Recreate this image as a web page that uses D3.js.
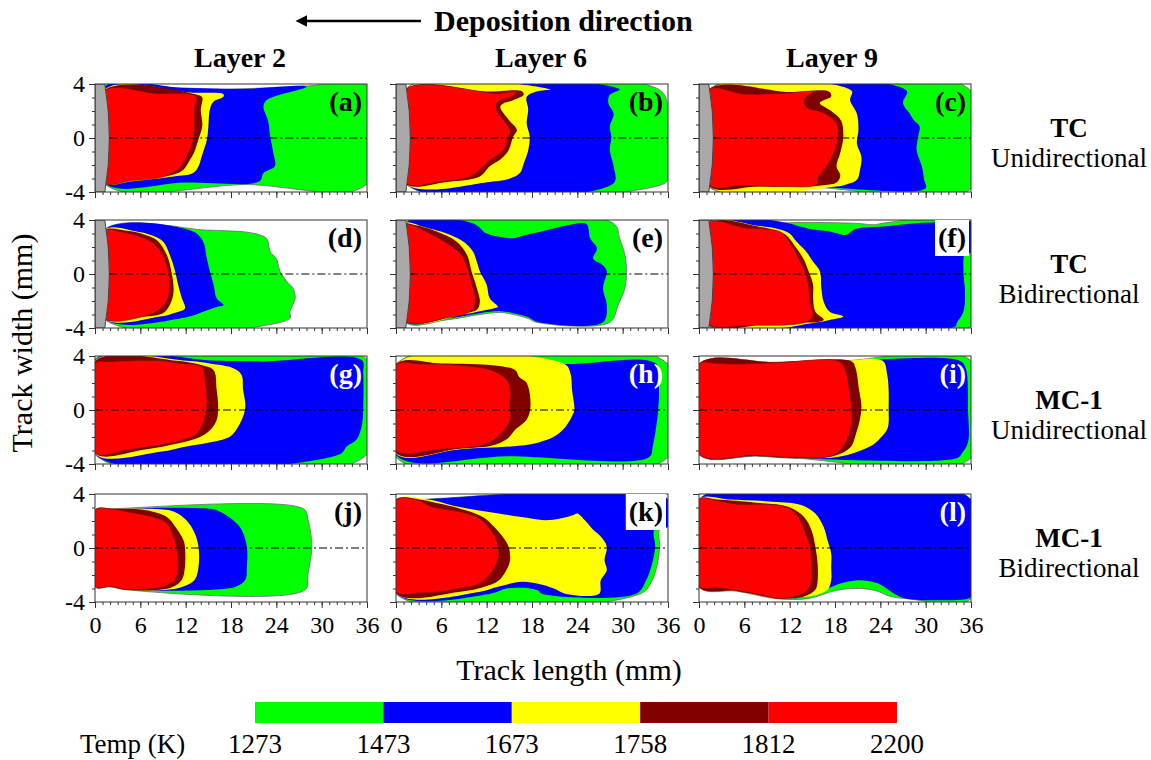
<!DOCTYPE html>
<html><head><meta charset="utf-8">
<script src="https://cdn.jsdelivr.net/npm/d3@7"></script>
<style>
body{margin:0;background:#fff}
svg{display:block}
text{font-family:"Liberation Serif","Times New Roman",serif}
</style>
</head><body>
<svg id="chart" width="1151" height="760"></svg>
<script>
// ---------------- data ----------------
const layers = ["Layer 2", "Layer 6", "Layer 9"];
const rowTitles = [["TC","Unidirectional"],["TC","Bidirectional"],["MC-1","Unidirectional"],["MC-1","Bidirectional"]];
const panelLetters = ["(a)","(b)","(c)","(d)","(e)","(f)","(g)","(h)","(i)","(j)","(k)","(l)"];
const letterWhite = [false,false,false,false,false,false,true,true,true,false,false,true];
const letterBox   = [false,false,false,false,false,true,false,false,false,false,true,false];
const tempTicks = [1273, 1473, 1673, 1758, 1812, 2200];
const zoneColors = ["#00ff00", "#0000ff", "#ffff00", "#800000", "#ff0000"]; // >1273, >1473, >1673, >1758, >1812
const xTicks = [0, 6, 12, 18, 24, 30, 36];
const yTicks = [-4, 0, 4];
const hasSubstrate = [true, true, false, false];
const substrateEdge = [1.3, 1.9]; // mm: substrate edge at track sides, at centre

// contour outlines [x mm, y mm], zones ordered green, blue, yellow, dark red, red
const contoursA = [
 [[1.2,3.8],[10,3.75],[17,3.6],[22,3.7],[28,3.85],[36,3.85],[36,-3.4],[20,-3.45],[1.2,-3.35]],
 [[1.2,3.75],[12,3.7],[20,3.65],[28,3.8],[22.7,2.8],[22.3,2.3],[22.9,1.3],[23.2,0.1],[23.6,-1.1],[23.8,-2.1],[22.3,-2.6],[21.8,-3.2],[12,-3.3],[1.2,-3.3]],
 [[1.2,3.55],[13,3.35],[17,3.25],[17,3.05],[15.7,2.7],[15.2,2.1],[15,0.8],[14.8,-0.15],[14.1,-1.4],[13.7,-2.1],[13,-2.6],[10.4,-2.85],[5,-3.2],[1.2,-3.3]],
 [[1.2,3.5],[13.5,3.2],[14.2,3.0],[14,2.1],[14.2,0.9],[13.7,-0.1],[13.1,-1.1],[12.6,-1.6],[11.7,-2.35],[10.4,-2.7],[5,-3.1],[1.2,-3.3]],
 [[1.2,3.45],[8,3.3],[13.4,3.05],[13.2,2.2],[13.2,1.0],[13,-0.1],[12.6,-0.85],[12.1,-1.35],[11.5,-2.05],[10.4,-2.55],[8.6,-2.95],[5,-3.15],[1.2,-3.3]]
];
const contoursB = [
 [[1.2,3.6],[34.8,3.6],[36,2.3],[36,-2.9],[35.6,-3.35],[1.2,-3.35]],
 [[1.2,3.6],[29.6,3.6],[28.3,3.2],[28.1,2.6],[28.8,1.8],[28.3,0.85],[28.5,0.1],[28.3,-0.9],[28.8,-2.1],[28.8,-3.35],[1.2,-3.35]],
 [[1.2,3.6],[20.4,3.6],[18.6,3.45],[17.3,3.05],[17.5,2.1],[17.3,1.1],[17.7,0.1],[17.5,-0.9],[16.9,-1.9],[16.4,-2.6],[15.1,-3.0],[12.4,-3.25],[1.2,-3.35]],
 [[1.2,3.55],[12,3.45],[16.7,3.45],[16.9,3.2],[15.5,2.8],[14.2,2.55],[13.8,2.3],[14.9,1.35],[16.0,0.6],[15.5,0.1],[14.9,-0.9],[13.8,-1.6],[12.4,-2.1],[11.1,-2.85],[6.7,-3.25],[1.2,-3.35]],
 [[1.2,3.55],[13.3,3.3],[15.9,3.4],[15.3,3.05],[13.5,2.7],[13.3,2.1],[14.2,1.35],[15.1,0.6],[14.9,0.1],[14.2,-0.9],[13.1,-1.4],[12.2,-1.75],[11.1,-2.35],[9.8,-2.85],[5.8,-3.25],[1.2,-3.3]]
];
const contoursC = [
 [[1.2,3.5],[36,3.5],[36,-3.75],[15,-3.65],[1.2,-3.55]],
 [[1.2,3.5],[27.5,3.5],[27.0,2.6],[27.9,1.8],[28.4,1.35],[29.2,0.85],[29.0,0.1],[28.8,-0.9],[29.5,-2.1],[29.8,-3.1],[30.0,-3.72],[15,-3.63],[1.2,-3.5]],
 [[1.2,3.5],[20.2,3.5],[20.0,2.8],[20.9,1.8],[21.1,0.6],[20.9,-0.4],[21.5,-1.4],[21.3,-2.4],[20.9,-3.1],[19.5,-3.45],[18.2,-3.6],[1.2,-3.5]],
 [[1.2,3.55],[12,3.4],[17.2,3.45],[17.5,3.1],[16.0,2.6],[17.5,2.0],[18.8,1.3],[19.1,0.1],[18.7,-1.1],[18.2,-2.1],[18.7,-2.8],[18.2,-3.3],[16.5,-3.5],[8,-3.6],[1.2,-3.5]],
 [[1.2,3.55],[6,3.25],[11,3.3],[15.1,3.4],[14.0,2.9],[14.2,2.3],[16.5,1.85],[18.2,1.1],[18.4,0.1],[18.0,-0.9],[17.1,-1.9],[16.5,-2.4],[15.8,-2.9],[15.6,-3.45],[11,-3.6],[6,-3.5],[1.2,-3.45]]
];
const contoursD = [
 [[1.2,3.25],[14.8,3.25],[17.4,3.2],[20.1,3.1],[21.8,2.9],[22.7,2.65],[22.9,2.4],[23.2,1.65],[24.0,1.15],[24.5,0.2],[25.4,-0.55],[26.2,-1.05],[26.5,-1.8],[25.8,-2.8],[25.8,-3.3],[1.2,-3.3]],
 [[1.2,3.25],[13.0,3.15],[14.3,2.4],[14.8,1.15],[15.2,0.2],[15.7,-0.8],[16.1,-1.8],[17.0,-2.3],[16.1,-2.45],[14.3,-2.8],[12.1,-3.2],[1.2,-3.3]],
 [[1.2,3.25],[5.5,3.15],[7.3,2.9],[9.0,2.4],[9.9,1.4],[10.6,0.2],[11.0,-0.8],[11.5,-1.8],[11.9,-2.55],[10.4,-2.9],[8.6,-3.15],[1.2,-3.3]],
 [[1.2,3.2],[4.2,3.2],[6.4,2.95],[8.2,2.5],[9.5,1.4],[10.1,0.2],[10.4,-1.3],[9.9,-2.3],[9.0,-2.9],[5,-3.2],[1.2,-3.3]],
 [[1.2,3.2],[3.3,3.15],[6.0,2.75],[7.7,2.3],[9.0,1.4],[9.7,0.2],[9.9,-1.0],[9.5,-2.0],[8.6,-2.6],[6.4,-3.15],[1.2,-3.25]]
];
const contoursE = [
 [[1.2,3.75],[28.8,3.75],[29.6,2.65],[30.3,1.4],[30.5,0.2],[30.3,-1.05],[29.4,-2.3],[28.3,-3.58],[18.6,-3.58],[17.5,-3.3],[15.5,-3.0],[13.8,-2.85],[11.1,-3.0],[6.7,-3.4],[1.2,-3.55]],
 [[1.2,3.75],[10.2,3.75],[12.0,3.0],[13.8,2.75],[15.5,2.65],[17.3,2.9],[19.9,3.25],[22.6,3.6],[25.2,3.7],[25.7,2.65],[26.6,1.9],[26.1,1.15],[27.4,0.65],[27.9,0.2],[27.4,-1.05],[27.9,-2.3],[27.4,-3.58],[18.8,-3.55],[17.5,-3.2],[15.5,-2.9],[13.8,-2.75],[11.1,-2.9],[6.7,-3.3],[1.2,-3.5]],
 [[1.2,3.75],[2.3,3.75],[3.6,3.5],[6.7,3.0],[8.9,2.4],[10.2,1.65],[10.7,0.9],[11.1,0.2],[12.0,-0.8],[12.4,-1.8],[13.5,-2.45],[12.9,-2.55],[11.1,-2.75],[8.9,-3.0],[1.2,-3.45]],
 [[1.2,3.7],[2.3,3.65],[5.4,3.15],[8.0,2.4],[9.4,1.4],[10.0,0.2],[10.7,-1.05],[11.1,-2.05],[10.7,-2.65],[8.9,-2.9],[1.2,-3.45]],
 [[1.2,3.65],[2.1,3.62],[4.5,3.0],[7.1,2.15],[8.7,1.4],[9.6,0.2],[10.2,-1.05],[10.5,-2.05],[9.8,-2.8],[6.7,-3.25],[1.2,-3.45]]
];
const contoursF = [
 [[1.2,3.85],[6.3,3.75],[8.9,3.65],[12.0,3.8],[20.9,3.75],[23.1,3.65],[24.8,3.8],[36,3.85],[36,-3.85],[1.2,-3.8]],
 [[1.2,3.8],[12.0,3.75],[12.9,3.6],[15.1,3.3],[17.3,3.15],[19.5,2.9],[20.4,3.25],[21.3,3.4],[23.9,3.5],[28.4,3.75],[33,3.85],[36,3.85],[36,1.6],[35.2,1.5],[35.0,0.2],[35.2,-1.3],[35.0,-2.8],[34.1,-3.65],[34,-3.85],[1.2,-3.75]],
 [[1.2,3.75],[8,3.55],[10.7,3.3],[12.0,3.0],[12.9,2.4],[14.2,1.65],[15.1,0.9],[16.0,0.2],[16.2,-1.05],[16.5,-2.05],[17.3,-2.8],[19.1,-3.15],[17.3,-3.4],[16.0,-3.55],[1.2,-3.7]],
 [[1.2,3.7],[8,3.5],[11.2,3.0],[12.0,2.6],[12.9,1.9],[13.8,1.15],[14.5,0.2],[15.1,-0.8],[15.1,-1.8],[15.4,-2.8],[16.5,-3.4],[10,-3.6],[1.2,-3.7]],
 [[1.2,3.75],[6.3,3.4],[10.7,3.15],[11.6,2.65],[12.5,1.9],[13.4,0.9],[14.0,0.2],[14.5,-0.8],[14.7,-2.05],[15.1,-3.05],[14.2,-3.55],[6.3,-3.8],[1.2,-3.65]]
];
const contoursG = [
 [[0,3.75],[36,3.75],[36,-3.3],[0,-3.3]],
 [[0,3.7],[16,3.65],[22,3.6],[35.3,3.7],[35.5,2.7],[35.5,0.25],[35.3,-1.2],[34.6,-2.2],[33.3,-2.7],[32.4,-3.28],[0,-3.28]],
 [[0,3.65],[12.1,3.65],[15.2,3.45],[18.3,3.1],[19.4,2.6],[19.6,1.5],[19.9,0.25],[19.4,-0.75],[18.3,-1.75],[17.4,-2.1],[14.8,-2.45],[12.1,-2.7],[8.6,-3.1],[0,-3.25]],
 [[0,3.6],[10.8,3.65],[13.9,3.35],[15.7,2.95],[16.1,1.5],[16.3,0.25],[16.1,-0.75],[15.2,-1.5],[13.9,-2.0],[11.2,-2.45],[6.4,-2.95],[0,-3.2]],
 [[0,3.45],[2.0,3.58],[8.6,3.65],[11.2,3.45],[14.1,3.2],[14.6,2.2],[14.8,0.25],[14.3,-1.0],[13.5,-1.75],[11.7,-2.2],[8.6,-2.6],[4.2,-2.95],[0,-3.2]]
];
const contoursH = [
 [[0,3.4],[36,3.4],[36,-3.5],[0,-3.5]],
 [[0,3.4],[22.3,3.4],[34.5,3.4],[34.8,1.5],[34.7,0],[34.5,-1],[34.0,-2.65],[33.5,-3.5],[15,-3.42],[0,-3.35]],
 [[0,3.4],[22.3,3.4],[23.1,2.7],[23.3,1.5],[23.6,0],[23.3,-0.45],[22.5,-1.2],[21.0,-1.95],[18.9,-2.4],[16.3,-2.65],[8.5,-2.9],[0,-3.25]],
 [[0,3.4],[6,3.45],[13.1,3.3],[15.8,2.95],[16.3,2.45],[17.3,2.0],[17.8,0.25],[17.3,-0.7],[15.8,-1.45],[14.7,-2.15],[12.6,-2.65],[8.5,-2.85],[0,-3.2]],
 [[0,3.35],[3.2,3.4],[8.5,3.3],[12.6,2.95],[14.7,2.2],[15.2,1.25],[15.0,0.25],[15.2,-0.45],[14.7,-1.2],[13.1,-2.15],[11.1,-2.65],[5.8,-2.9],[0,-3.0]]
];
const contoursI = [
 [[0,3.42],[5,3.44],[10.2,3.54],[18.6,3.62],[36,3.65],[36,-3.55],[12.8,-3.58],[7.6,-3.42],[0,-3.3]],
 [[0,3.42],[10.2,3.54],[18.6,3.62],[34.5,3.65],[35.3,3.1],[35.6,0],[35.6,-2.4],[34.8,-3.2],[34.2,-3.55],[12.8,-3.57],[7.6,-3.41],[0,-3.29]],
 [[0,3.42],[10.2,3.54],[18.6,3.62],[24.3,3.64],[24.9,2.65],[25.1,1.45],[25.1,0],[25.1,-0.95],[24.9,-1.45],[23.8,-2.2],[22.8,-2.65],[20.7,-3.15],[18.1,-3.5],[12.8,-3.56],[7.6,-3.4],[0,-3.28]],
 [[0,3.42],[10.2,3.54],[20.2,3.6],[20.7,3.15],[21.2,1.45],[21.5,0.25],[21.2,-0.95],[20.7,-1.9],[20.2,-2.65],[19.1,-3.15],[17.0,-3.5],[12.8,-3.56],[7.6,-3.4],[0,-3.28]],
 [[0,3.4],[2.4,3.45],[5.0,3.4],[10.2,3.5],[18.6,3.58],[19.4,2.9],[19.9,1.45],[20.2,0.25],[20.2,-1.0],[19.6,-2.2],[18.8,-2.9],[17.5,-3.4],[12.8,-3.52],[7.6,-3.36],[0,-3.25]]
];
const contoursJ = [
 [[0,2.8],[2.4,2.9],[27.6,2.9],[28.2,2.1],[28.7,0.1],[28.2,-1.9],[27.8,-3.1],[4.2,-3.1],[2,-2.87],[0,-2.87]],
 [[0,2.8],[2.4,2.9],[15.2,2.9],[16.5,2.7],[18.3,2.05],[19.4,1.35],[20.1,0.1],[20.1,-1.4],[19.9,-2.35],[18.7,-2.85],[16.5,-3.05],[4.2,-3.1],[2,-2.87],[0,-2.87]],
 [[0,2.8],[2.4,2.9],[7.3,2.9],[10.4,2.7],[12.1,2.05],[13.2,1.1],[13.7,0.1],[13.7,-1.4],[13.2,-2.35],[11.7,-2.85],[9.5,-3.1],[4.2,-3.1],[2,-2.87],[0,-2.87]],
 [[0,2.8],[2.4,2.9],[6.8,2.8],[9.5,2.3],[10.6,1.6],[11.7,0.6],[11.9,0.1],[11.9,-1.4],[11.5,-2.35],[10.4,-2.85],[8.6,-3.1],[4.2,-3.1],[2,-2.87],[0,-2.87]],
 [[0,2.8],[2.4,2.87],[4.2,2.69],[7.7,2.3],[9.5,1.85],[10.4,0.85],[10.8,0.1],[11.0,-1.4],[10.6,-2.35],[9.5,-2.75],[7.7,-3.0],[4.2,-3.08],[2.0,-2.86],[0,-2.86]]
];
const contoursK = [
 [[0,3.55],[3.1,3.6],[36,3.6],[36,1.6],[34.9,1.35],[34.9,0.1],[34.6,-1.15],[33.9,-2.4],[32.4,-3.38],[0,-3.38]],
 [[0,3.55],[3.1,3.6],[36,3.6],[36,1.6],[34.2,1.35],[34.3,0.1],[33.9,-1.15],[33.1,-2.4],[31.8,-3.38],[19.3,-3.38],[18.8,-3.15],[16.7,-2.95],[14.6,-3.0],[12.5,-3.38],[0,-3.38]],
 [[0,3.55],[4.2,3.6],[8.3,3.05],[13.6,2.55],[17.7,2.2],[19.8,2.05],[21.9,2.2],[23.5,2.45],[24.0,2.55],[25.0,2.05],[26.1,1.35],[27.1,0.85],[27.9,0.1],[27.6,-0.9],[27.9,-1.65],[27.1,-2.4],[26.9,-3.38],[22.4,-3.38],[20.9,-3.0],[18.8,-2.65],[16.7,-2.5],[13.6,-2.85],[11.0,-3.25],[0,-3.35]],
 [[0,3.55],[3.1,3.6],[5.7,3.3],[8.3,2.95],[11.5,2.3],[13.0,1.55],[14.1,0.85],[14.9,0.1],[15.1,-0.9],[14.6,-1.65],[13.6,-2.4],[11.5,-2.9],[8.3,-3.25],[0,-3.35]],
 [[0,3.55],[3.1,3.5],[4.7,3.05],[8.3,2.7],[11.0,2.2],[12.5,1.35],[13.3,0.6],[13.6,-0.4],[13.3,-1.15],[12.5,-1.9],[11.0,-2.65],[8.3,-3.0],[5.7,-3.25],[3.1,-3.32],[0,-3.25]]
];
const contoursL = [
 [[0,3.6],[36,3.6],[36,-3.75],[27.5,-3.75],[25.4,-3.6],[23.3,-3.15],[20.7,-3.0],[18.1,-3.15],[14.4,-3.75],[10.2,-3.75],[5,-3.2],[0,-2.9]],
 [[0,3.6],[36,3.6],[36,-3.6],[35.6,-3.75],[27.5,-3.75],[25.9,-3.4],[23.8,-2.65],[21.7,-2.4],[19.6,-2.5],[18.1,-2.75],[16.0,-3.25],[14.4,-3.6],[12.3,-3.74],[10.2,-3.74],[5,-3.18],[0,-2.88]],
 [[0,3.6],[3.9,3.6],[9.2,3.45],[13.4,3.2],[15.4,2.55],[16.5,1.55],[17.0,0.6],[17.5,-0.4],[17.5,-1.4],[17.5,-2.4],[17.0,-3.1],[15.4,-3.5],[12.8,-3.7],[10.2,-3.74],[5,-3.18],[0,-2.88]],
 [[0,3.6],[2.4,3.6],[7.6,3.35],[11.8,3.05],[13.9,2.3],[14.9,1.3],[15.4,0.1],[15.7,-1.15],[15.7,-2.4],[15.4,-3.1],[13.9,-3.6],[11.8,-3.74],[10.2,-3.74],[5,-3.18],[0,-2.88]],
 [[0,3.6],[2.4,3.5],[5.0,3.25],[10.2,3.18],[12.3,2.8],[13.4,2.05],[14.1,1.1],[14.7,0.1],[14.9,-1.15],[14.9,-2.4],[14.4,-3.1],[12.8,-3.6],[10.2,-3.72],[7.6,-3.4],[5.0,-3.15],[2.4,-2.95],[0,-2.85]]
];
const allContours = [contoursA,contoursB,contoursC,contoursD,contoursE,contoursF,
                     contoursG,contoursH,contoursI,contoursJ,contoursK,contoursL];

// ---------------- layout ----------------
const svg = d3.select("#chart");
const colX = [95, 396, 699], rowY = [84, 220, 356, 494];
const PW = 272, PH = 108;
const FONT = '"Liberation Serif","Times New Roman",serif';

const x = d3.scaleLinear().domain([0, 36]).range([0, PW]);
const y = d3.scaleLinear().domain([-4, 4]).range([PH, 0]);
const zoneLine = d3.line().x(d => x(d[0])).y(d => y(d[1])).curve(d3.curveCatmullRomClosed.alpha(0.5));

svg.append("defs").append("clipPath").attr("id", "pclip")
  .append("rect").attr("width", PW).attr("height", PH);

allContours.forEach((cs, i) => {
  const r = Math.floor(i / 3), c = i % 3;
  const g = svg.append("g").attr("transform", `translate(${colX[c]},${rowY[r]})`);
  const body = g.append("g").attr("clip-path", "url(#pclip)");
  body.selectAll("path.zone").data(cs).join("path")
    .attr("class", "zone")
    .attr("d", zoneLine)
    .attr("fill", (d, k) => zoneColors[k])
    .attr("stroke", (d, k) => k === 0 ? "#6b6b6b" : (k === 4 ? "#5a1a00" : "none"))
    .attr("stroke-width", (d, k) => k === 0 ? 0.8 : 0.5);

  if (hasSubstrate[r]) {
    const e0 = substrateEdge[0], ctrl = 2 * substrateEdge[1] - substrateEdge[0];
    body.append("path")
      .attr("d", `M${x(0)},${y(4)}L${x(e0)},${y(4)}Q${x(ctrl)},${y(0)} ${x(e0)},${y(-4)}L${x(0)},${y(-4)}Z`)
      .attr("fill", "#a9a9a9").attr("stroke", "#3a3a3a").attr("stroke-width", 0.9);
  }
  // centre line
  body.append("line")
    .attr("x1", x(hasSubstrate[r] ? substrateEdge[1] : 0)).attr("x2", x(36))
    .attr("y1", y(0)).attr("y2", y(0))
    .attr("stroke", "#000").attr("stroke-width", 1).attr("stroke-dasharray", "8,3,2,3");

  // frame
  g.append("rect").attr("width", PW).attr("height", PH)
    .attr("fill", "none").attr("stroke", "#333").attr("stroke-width", 1);

  // axes
  const styleAxis = a => {
    a.attr("font-family", FONT);
    a.select(".domain").remove();
    a.selectAll("line").attr("stroke", "#333");
    a.selectAll("text").attr("font-family", FONT).attr("font-size", 24).attr("fill", "#000");
  };
  g.append("g").call(d3.axisLeft(y).tickValues(d3.range(-4, 5, 1)).tickSize(3).tickFormat("")).call(styleAxis);
  g.append("g").call(d3.axisLeft(y).tickValues(yTicks).tickSize(6).tickPadding(4)
      .tickFormat(c === 0 ? (d => String(d)) : "")).call(styleAxis);
  g.append("g").attr("transform", `translate(0,${PH})`)
    .call(d3.axisBottom(x).tickValues(d3.range(0, 37, 1)).tickSize(3).tickFormat("")).call(styleAxis);
  g.append("g").attr("transform", `translate(0,${PH})`)
    .call(d3.axisBottom(x).tickValues(xTicks).tickSize(6).tickPadding(8)
      .tickFormat(r === 3 ? (d => String(d)) : "")).call(styleAxis);

  // panel letter
  const lt = g.append("text")
    .attr("x", PW - 5).attr("y", 27)
    .attr("text-anchor", "end").attr("font-family", FONT)
    .attr("font-weight", "bold").attr("font-size", 28)
    .attr("fill", letterWhite[i] ? "#fff" : "#000")
    .text(panelLetters[i]);
  if (letterBox[i]) {
    const bb = lt.node().getBBox();
    g.insert("rect", () => lt.node())
      .attr("x", bb.x - 3).attr("y", bb.y - 2)
      .attr("width", bb.width + 6).attr("height", bb.height + 5)
      .attr("fill", "#fff");
  }
});

// column headers
const layerCx = [240, 541, 832];
svg.selectAll("text.layer").data(layers).join("text")
  .attr("class", "layer")
  .attr("x", (d, i) => layerCx[i]).attr("y", 67)
  .attr("text-anchor", "middle").attr("font-family", FONT)
  .attr("font-weight", "bold").attr("font-size", 28)
  .text(d => d);

// title with arrow
svg.append("defs").append("marker")
  .attr("id", "arrowhead").attr("viewBox", "0 0 10 10").attr("refX", 1).attr("refY", 5)
  .attr("markerWidth", 4.5).attr("markerHeight", 4.5).attr("orient", "auto-start-reverse")
  .append("path").attr("d", "M0,0L10,5L0,10Z").attr("fill", "#000");
svg.append("line").attr("x1", 421).attr("y1", 21).attr("x2", 306).attr("y2", 21)
  .attr("stroke", "#000").attr("stroke-width", 2.6).attr("marker-end", "url(#arrowhead)");
svg.append("text").attr("x", 434).attr("y", 31)
  .attr("font-family", FONT).attr("font-weight", "bold").attr("font-size", 30)
  .text("Deposition direction");

// row titles
rowTitles.forEach((t, r) => {
  svg.append("text").attr("x", 1069).attr("y", rowY[r] + 53)
    .attr("text-anchor", "middle").attr("font-family", FONT)
    .attr("font-weight", "bold").attr("font-size", 27).text(t[0]);
  svg.append("text").attr("x", 1069).attr("y", rowY[r] + 83)
    .attr("text-anchor", "middle").attr("font-family", FONT)
    .attr("font-size", 27).text(t[1]);
});

// axis titles
svg.append("text")
  .attr("transform", `translate(32,${(rowY[0] + rowY[3] + PH) / 2}) rotate(-90)`)
  .attr("text-anchor", "middle").attr("font-family", FONT).attr("font-size", 30)
  .text("Track width (mm)");
svg.append("text").attr("x", 569).attr("y", 680)
  .attr("text-anchor", "middle").attr("font-family", FONT).attr("font-size", 30)
  .text("Track length (mm)");

// colour bar
const cb = d3.scalePoint().domain(tempTicks.map(String)).range([255, 897]);
const segs = d3.pairs(tempTicks);
svg.selectAll("rect.cb").data(segs).join("rect")
  .attr("class", "cb")
  .attr("x", d => cb(String(d[0]))).attr("y", 702)
  .attr("width", d => cb(String(d[1])) - cb(String(d[0]))).attr("height", 21)
  .attr("fill", (d, i) => zoneColors[i]);
svg.selectAll("text.cbl").data(tempTicks).join("text")
  .attr("class", "cbl")
  .attr("x", d => cb(String(d))).attr("y", 753)
  .attr("text-anchor", "middle").attr("font-family", FONT).attr("font-size", 27)
  .text(d => d);
svg.append("text").attr("x", 80).attr("y", 753)
  .attr("font-family", FONT).attr("font-size", 27).text("Temp (K)");
</script>
</body></html>
